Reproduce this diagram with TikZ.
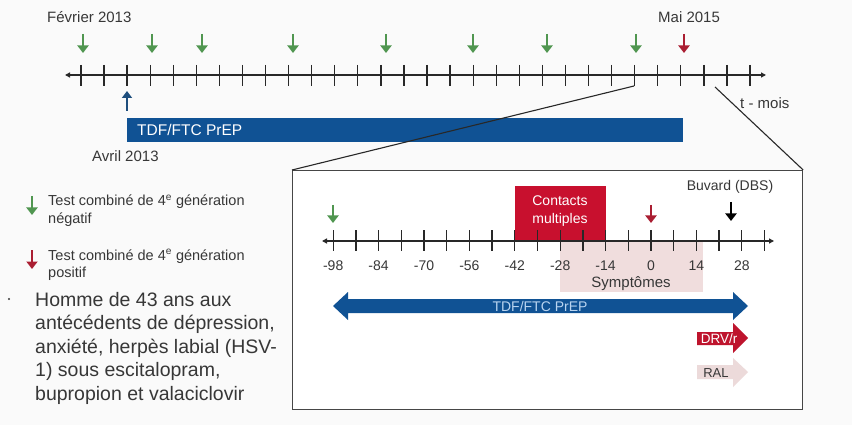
\documentclass[tikz,border=0pt]{standalone}
\usepackage{fontspec}
\setmainfont{Liberation Sans}
\usetikzlibrary{arrows.meta}
\definecolor{bgc}{RGB}{250,250,250}
\definecolor{txt}{RGB}{55,55,55}
\definecolor{axc}{RGB}{40,40,40}
\definecolor{pblue}{RGB}{16,82,148}
\definecolor{upblue}{RGB}{30,78,125}
\definecolor{lblue}{RGB}{185,212,240}
\definecolor{grn}{RGB}{80,150,80}
\definecolor{redarr}{RGB}{170,30,50}
\definecolor{crim}{RGB}{200,16,46}
\definecolor{drvred}{RGB}{190,20,45}
\definecolor{sympk}{RGB}{240,221,221}
\definecolor{ralpk}{RGB}{236,218,218}
\definecolor{boxc}{RGB}{70,70,70}
\begin{document}
\begin{tikzpicture}[x=1pt,y=-1pt,
  lbl/.style={font=\fontsize{15}{18}\selectfont, text=txt, inner sep=0pt},
  slbl/.style={font=\fontsize{14}{17}\selectfont, text=txt, inner sep=0pt},
  leg/.style={font=\fontsize{14.5}{17}\selectfont, text=txt, inner sep=0pt, anchor=base west},
  para/.style={font=\fontsize{19.5}{23}\selectfont, text=txt, inner sep=0pt, anchor=base west},
  tickmark/.style={line width=1.3pt, draw=axc},
  downarr/.style={line width=2.6pt, -{Triangle[width=11pt,length=7.5pt]}},
  axisline/.style={line width=1.2pt, draw=axc, {Triangle[width=5pt,length=5pt]}-{Triangle[width=5pt,length=5pt]}},
  zoomline/.style={line width=1.1pt, draw=axc}
]
\fill[bgc] (0,0) rectangle (852,425);
\useasboundingbox (0,0) rectangle (852,425);

% ---------- top timeline ----------
\node[fill=pblue, minimum width=556pt, minimum height=24pt, anchor=north west, inner sep=0pt] (bar) at (127,118) {};
\node[font=\fontsize{15.5}{18}\selectfont, text=white, inner sep=0pt, anchor=base west] (bartxt) at (137,135.5) {TDF/FTC PrEP};

\coordinate (tl) at (65,75);
\coordinate (tr) at (766,75);
\draw[axisline] (tl) -- (tr);
\foreach \i in {0,...,29} {
  \coordinate (tt\i) at ({81+\i*23.07},65);
  \coordinate (tb\i) at ({81+\i*23.07},86);
  \draw[tickmark] (tt\i) -- (tb\i);
}

\foreach \x [count=\k] in {83,152,202,293,386,473,547,636} {
  \coordinate (ga\k) at (\x,34);
  \coordinate (gb\k) at (\x,53);
  \draw[downarr, grn] (ga\k) -- (gb\k);
}
\coordinate (ra) at (684,34);
\coordinate (rb) at (684,53);
\draw[downarr, redarr] (ra) -- (rb);

\coordinate (ua) at (127,111);
\coordinate (ub) at (127,91);
\draw[line width=2.6pt, upblue, -{Triangle[width=10pt,length=7pt]}] (ua) -- (ub);

\node[lbl, anchor=base west] (fev) at (47,22.5) {Février 2013};
\node[lbl, anchor=base west] (mai) at (658,22.5) {Mai 2015};
\node[lbl, anchor=base west] (avr) at (92,161.5) {Avril 2013};
\node[lbl, anchor=base west] (tmois) at (740,109) {t - mois};

% ---------- zoom box ----------
\node[draw=boxc, fill=white, line width=1.2pt, anchor=north west, minimum width=510pt, minimum height=239pt, inner sep=0pt] (zbox) at (292,170) {};
\coordinate (z1) at (634,86);
\coordinate (z2) at (715,87);
\draw[zoomline] (z1) -- (zbox.north west);
\draw[zoomline] (z2) -- (zbox.north east);

% symptoms and contacts areas
\node[fill=sympk, anchor=north west, minimum width=143pt, minimum height=52pt, inner sep=0pt] (sym) at (560,240) {};
\node[fill=crim, anchor=north west, minimum width=91pt, minimum height=55pt, inner sep=0pt] (cont) at (515,186) {};
\node[font=\fontsize{14}{17}\selectfont, text=white, inner sep=0pt, anchor=base] (ct1) at (560,205) {Contacts};
\node[font=\fontsize{14}{17}\selectfont, text=white, inner sep=0pt, anchor=base] (ct2) at (560,223) {multiples};

% inner axis
\coordinate (il) at (322,241);
\coordinate (ir) at (774,241);
\draw[axisline] (il) -- (ir);
\foreach \d in {-98,-91,...,35} {
  \coordinate (it\d) at ({651+\d*3.243},230);
  \coordinate (ib\d) at ({651+\d*3.243},251);
  \draw[tickmark] (it\d) -- (ib\d);
}
\foreach \d in {-98,-84,...,28} {
  \node[slbl, anchor=base] (n\d) at ({651+\d*3.243},270) {\d};
}
\node[lbl, anchor=base] (symtxt) at (631,287.5) {Symptômes};

\coordinate (iga) at (333,205);
\coordinate (igb) at (333,223);
\draw[downarr, grn] (iga) -- (igb);
\coordinate (ira) at (651,205);
\coordinate (irb) at (651,223);
\draw[downarr, redarr] (ira) -- (irb);
\coordinate (iba) at (731,202);
\coordinate (ibb) at (731,221);
\draw[downarr, black] (iba) -- (ibb);
\node[slbl, anchor=base] (buv) at (730,190) {Buvard (DBS)};

% TDF/FTC PrEP double arrow
\fill[pblue] (333,306) -- (348,292) -- (348,299) -- (733,299) -- (733,292) -- (748,306)
  -- (733,320) -- (733,313) -- (348,313) -- (348,320) -- cycle;
\node[font=\fontsize{14}{17}\selectfont, text=lblue, inner sep=0pt, anchor=base] (ptxt) at (540,311) {TDF/FTC PrEP};

% DRV/r arrow
\fill[drvred] (697,332) -- (733,332) -- (733,323) -- (748,338) -- (733,353) -- (733,345) -- (697,345) -- cycle;
\node[font=\fontsize{13.5}{16}\selectfont, text=white, inner sep=0pt, anchor=base] (drv) at (719,343) {DRV/r};

% RAL arrow
\fill[ralpk] (697,365) -- (733,365) -- (733,358) -- (748,372) -- (733,387) -- (733,379) -- (697,379) -- cycle;
\node[font=\fontsize{13}{16}\selectfont, text=txt, inner sep=0pt, anchor=base] (ral) at (716,377) {RAL};

% ---------- legend ----------
\coordinate (lga) at (32,196);
\coordinate (lgb) at (32,215);
\draw[downarr, grn] (lga) -- (lgb);
\node[leg] (lg1) at (48,206) {Test combiné de 4\textsuperscript{e} génération};
\node[leg] (lg2) at (48,223) {négatif};
\coordinate (lra) at (32,250);
\coordinate (lrb) at (32,269);
\draw[downarr, redarr] (lra) -- (lrb);
\node[leg] (lr1) at (48,260) {Test combiné de 4\textsuperscript{e} génération};
\node[leg] (lr2) at (48,277) {positif};

% ---------- patient description ----------
\fill[txt] (9,299) circle (1.2pt);
\node[para] (p1) at (35,306) {Homme de 43 ans aux};
\node[para] (p2) at (35,329.5) {antécédents de dépression,};
\node[para] (p3) at (35,353) {anxiété, herpès labial (HSV-};
\node[para] (p4) at (35,376.5) {1) sous escitalopram,};
\node[para] (p5) at (35,400) {bupropion et valaciclovir};
\end{tikzpicture}
\end{document}
